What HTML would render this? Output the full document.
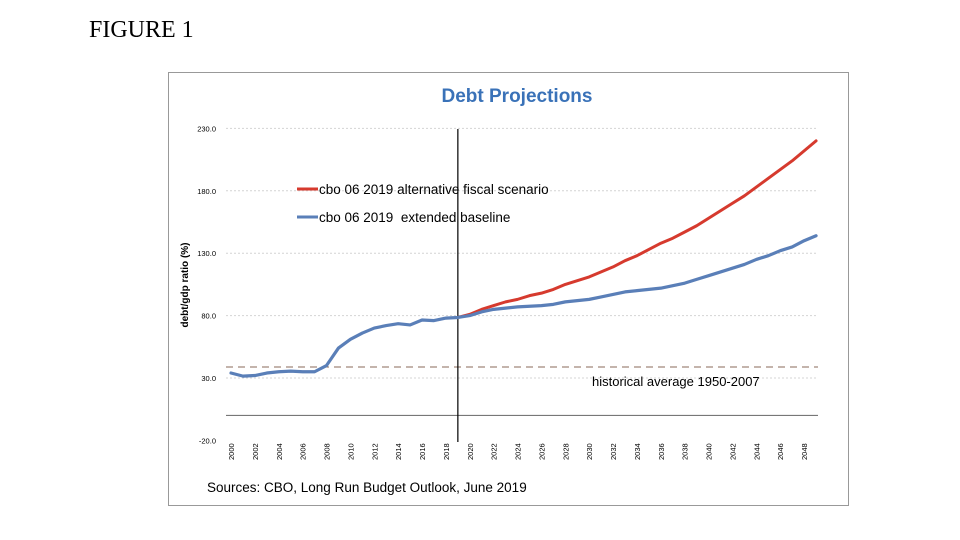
<!DOCTYPE html>
<html><head><meta charset="utf-8"><style>
body{margin:0;background:#fff;width:960px;height:540px;overflow:hidden;position:relative;font-family:"Liberation Sans",sans-serif}
#fig{position:absolute;left:89px;top:17px;font:24px "Liberation Serif",serif;color:#000}
#frame{position:absolute;left:168px;top:72px;width:681px;height:434px;border:1px solid #999;box-sizing:border-box}
svg{position:absolute;left:0;top:0}
</style></head><body>
<div id="fig">FIGURE 1</div>
<div id="frame"></div>
<svg id="chart" width="960" height="540"></svg>
<script>
const years=[];for(let y=2000;y<=2049;y++)years.push(y);
const baseline=[34,31.5,32,34,35,35.5,35,35,40,54,61,66,70,72,73.5,72.5,76.5,76,78,78.5,80,83,85,86,87,87.5,88,89,91,92,93,95,97,99,100,101,102,104,106,109,112,115,118,121,125,128,132,135,140,144];
const altYears=[2019,2020,2021,2022,2023,2024,2025,2026,2027,2028,2029,2030,2031,2032,2033,2034,2035,2036,2037,2038,2039,2040,2041,2042,2043,2044,2045,2046,2047,2048,2049];
const alternative=[78.5,81,85,88,91,93,96,98,101,105,108,111,115,119,124,128,133,138,142,147,152,158,164,170,176,183,190,197,204,212,220];
const yTicks=[230,180,130,80,30,-20];
const yTickLabels=["230.0","180.0","130.0","80.0","30.0","-20.0"];
const histAvg=38.8;
const ns="http://www.w3.org/2000/svg";
const svg=document.getElementById('chart');
const X=y=>231+(y-2000)*11.94;
const Y=v=>378-(v-30)*62.4/50;
function mk(t,a){const e=document.createElementNS(ns,t);for(const k in a)e.setAttribute(k,a[k]);svg.appendChild(e);return e;}
yTicks.forEach((v,i)=>{
 if(v>-20&&v!==0){const g=mk('line',{x1:226,x2:818,y1:Y(v),y2:Y(v),stroke:'#d4d4d4','stroke-dasharray':'2 2','stroke-width':1});
 }
 const t=mk('text',{x:216,y:Y(v)+3,'text-anchor':'end','font-size':'7.5',fill:'#000'});t.textContent=yTickLabels[i];
 
});
const z=mk('line',{x1:226,x2:818,y1:Y(0),y2:Y(0),stroke:'#777','stroke-width':1.2});

const h=mk('line',{x1:226,x2:818,y1:Y(histAvg),y2:Y(histAvg),stroke:'#8a6a5a','stroke-dasharray':'7 5','stroke-width':1});

const ht=mk('text',{x:592,y:386,'font-size':'13',fill:'#000'});ht.textContent='historical average 1950-2007';

for(let y=2000;y<=2048;y+=2){const t=mk('text',{transform:`translate(${X(y)+3},460) rotate(-90)`,'font-size':'7.5',fill:'#000'});t.textContent=y;
 }
const vl=mk('line',{x1:X(2019),x2:X(2019),y1:129,y2:442,stroke:'#000','stroke-width':1.2});

const pr=mk('polyline',{points:altYears.map((y,i)=>X(y)+','+Y(alternative[i])).join(' '),fill:'none',stroke:'#d63a2e','stroke-width':3,'stroke-linejoin':'round','stroke-linecap':'round'});

const pb=mk('polyline',{points:years.map((y,i)=>X(y)+','+Y(baseline[i])).join(' '),fill:'none',stroke:'#5a7fb8','stroke-width':3.2,'stroke-linejoin':'round','stroke-linecap':'round'});

const tt=mk('text',{x:517,y:102,'text-anchor':'middle','font-size':'19','font-weight':'bold',fill:'#3a72b8'});tt.textContent='Debt Projections';

const ya=mk('text',{transform:'translate(188,285) rotate(-90)','text-anchor':'middle','font-size':'10','font-weight':'bold',fill:'#000'});ya.textContent='debt/gdp ratio (%)';

[['#d63a2e','cbo 06 2019 alternative fiscal scenario',189,'legend-entry-alternative'],['#5a7fb8','cbo 06 2019  extended baseline',217,'legend-entry-baseline']].forEach(d=>{
 const l=mk('line',{x1:297,x2:318,y1:d[2],y2:d[2],stroke:d[0],'stroke-width':3});
 const t=mk('text',{x:319,y:d[2]+5,'font-size':'13.5',fill:'#000'});t.textContent=d[1];t.style.whiteSpace='pre';
 
});
const src=mk('text',{x:207,y:492,'font-size':'13.5',fill:'#000'});src.textContent='Sources: CBO, Long Run Budget Outlook, June 2019';

</script>
</body></html>
